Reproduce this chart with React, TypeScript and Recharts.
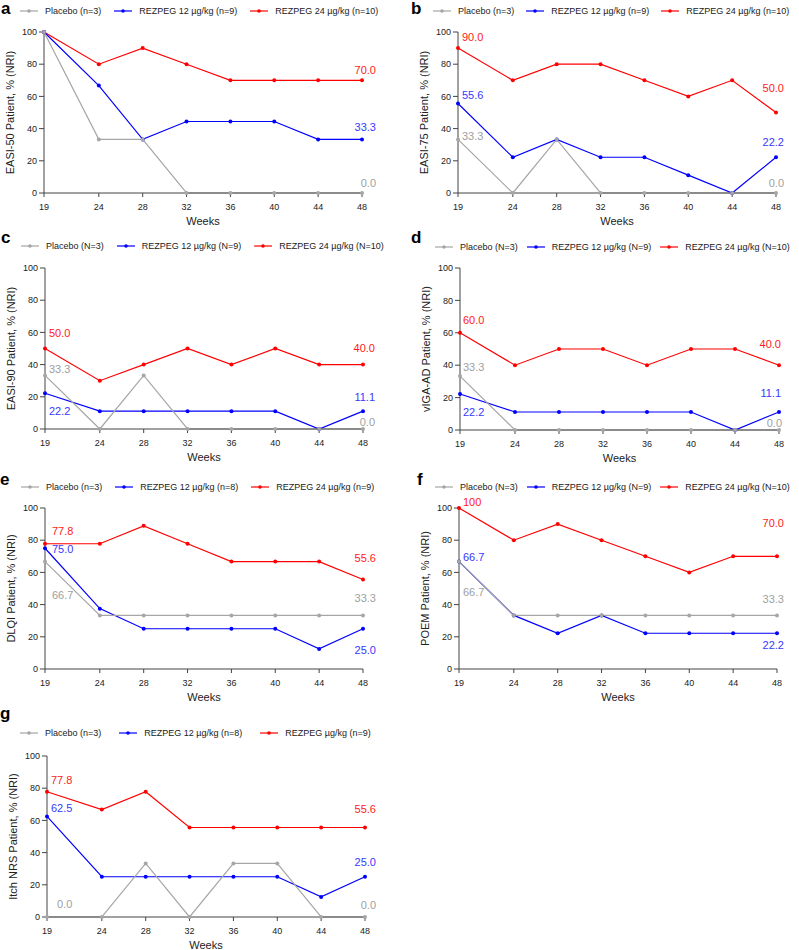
import React from "react";
import { LineChart, Line, XAxis, YAxis, Legend, LabelList } from "recharts";

const FONT = "'Liberation Sans', Arial, sans-serif";

// weeks shown on every panel
const weeks = [19, 24, 28, 32, 36, 40, 44, 48];
const yTicks = [0, 20, 40, 60, 80, 100];

// a - EASI-50
const easi50Placebo = [100, 33.3, 33.3, 0, 0, 0, 0, 0];
const easi50Low = [100, 66.7, 33.3, 44.4, 44.4, 44.4, 33.3, 33.3];
const easi50High = [100, 80, 90, 80, 70, 70, 70, 70];

// b - EASI-75
const easi75Placebo = [33.3, 0, 33.3, 0, 0, 0, 0, 0];
const easi75Low = [55.6, 22.2, 33.3, 22.2, 22.2, 11.1, 0, 22.2];
const easi75High = [90, 70, 80, 80, 70, 60, 70, 50];

// c - EASI-90
const easi90Placebo = [33.3, 0, 33.3, 0, 0, 0, 0, 0];
const easi90Low = [22.2, 11.1, 11.1, 11.1, 11.1, 11.1, 0, 11.1];
const easi90High = [50, 30, 40, 50, 40, 50, 40, 40];

// d - vIGA-AD
const vigaPlacebo = [33.3, 0, 0, 0, 0, 0, 0, 0];
const vigaLow = [22.2, 11.1, 11.1, 11.1, 11.1, 11.1, 0, 11.1];
const vigaHigh = [60, 40, 50, 50, 40, 50, 50, 40];

// e - DLQI
const dlqiPlacebo = [66.7, 33.3, 33.3, 33.3, 33.3, 33.3, 33.3, 33.3];
const dlqiLow = [75, 37.5, 25, 25, 25, 25, 12.5, 25];
const dlqiHigh = [77.8, 77.8, 88.9, 77.8, 66.7, 66.7, 66.7, 55.6];

// f - POEM
const poemPlacebo = [66.7, 33.3, 33.3, 33.3, 33.3, 33.3, 33.3, 33.3];
const poemLow = [66.7, 33.3, 22.2, 33.3, 22.2, 22.2, 22.2, 22.2];
const poemHigh = [100, 80, 90, 80, 70, 60, 70, 70];

// g - Itch NRS
const itchPlacebo = [0, 0, 33.3, 0, 33.3, 33.3, 0, 0];
const itchLow = [62.5, 25, 25, 25, 25, 25, 12.5, 25];
const itchHigh = [77.8, 66.7, 77.8, 55.6, 55.6, 55.6, 55.6, 55.6];

const legendLower = ["Placebo (n=3)", "REZPEG 12 µg/kg (n=9)", "REZPEG 24 µg/kg (n=10)"];
const legendUpper = ["Placebo (N=3)", "REZPEG 12 µg/kg (N=9)", "REZPEG 24 µg/kg (N=10)"];
const legendDlqi = ["Placebo (n=3)", "REZPEG 12 µg/kg (n=8)", "REZPEG 24 µg/kg (n=9)"];
const legendItch = ["Placebo (n=3)", "REZPEG 12 µg/kg (n=8)", "REZPEG µg/kg (n=9)"];

const LINE = { pbo: "#a6a6a6", low: "#0000ff", high: "#ff0000" };
const ANNO = { pbo: "#a0a0a0", low: "#3838ff", high: "#ff1a1a" };

type Key = "pbo" | "low" | "high";
type Anno = { s: Key; i: number; dx: number; dy: number; a: "start" | "end" };

interface Panel {
  letter: string;
  yLabel: string;
  legend: string[];
  pbo: number[];
  low: number[];
  high: number[];
  left: number;
  width: number;
  top: number;
  plotLeft: number;
  plotRight: number;
  plotTop: number;
  plotBottom: number;
  legendX: number;
  legendY: number;
  legendGap: number;
  letterX: number;
  letterY: number;
  annos: Anno[];
}

const fmt = (v: number) => (v === 100 ? "100" : v.toFixed(1));

const panels: Panel[] = [
  {
    letter: "a", yLabel: "EASI-50 Patient, % (NRI)", legend: legendLower,
    pbo: easi50Placebo, low: easi50Low, high: easi50High,
    left: 0, width: 400, top: 0, plotLeft: 44, plotRight: 362, plotTop: 32, plotBottom: 193,
    legendX: 20, legendY: 11, legendGap: 13, letterX: 1, letterY: 14,
    annos: [
      { s: "high", i: 7, dx: 14, dy: -6, a: "end" },
      { s: "low", i: 7, dx: 14, dy: -8, a: "end" },
      { s: "pbo", i: 7, dx: 14, dy: -6, a: "end" },
    ],
  },
  {
    letter: "b", yLabel: "EASI-75 Patient, % (NRI)", legend: legendLower,
    pbo: easi75Placebo, low: easi75Low, high: easi75High,
    left: 400, width: 399, top: 0, plotLeft: 458, plotRight: 776, plotTop: 32, plotBottom: 193,
    legendX: 433, legendY: 11, legendGap: 12, letterX: 411, letterY: 14,
    annos: [
      { s: "high", i: 0, dx: 4, dy: -7, a: "start" },
      { s: "low", i: 0, dx: 4, dy: -4, a: "start" },
      { s: "pbo", i: 0, dx: 4, dy: 1, a: "start" },
      { s: "high", i: 7, dx: 8, dy: -21, a: "end" },
      { s: "low", i: 7, dx: 8, dy: -11, a: "end" },
      { s: "pbo", i: 7, dx: 8, dy: -6, a: "end" },
    ],
  },
  {
    letter: "c", yLabel: "EASI-90 Patient, % (NRI)", legend: legendUpper,
    pbo: easi90Placebo, low: easi90Low, high: easi90High,
    left: 0, width: 400, top: 230, plotLeft: 45, plotRight: 363, plotTop: 268, plotBottom: 429,
    legendX: 21, legendY: 246, legendGap: 13, letterX: 1, letterY: 243,
    annos: [
      { s: "high", i: 0, dx: 4, dy: -12, a: "start" },
      { s: "pbo", i: 0, dx: 4, dy: -2, a: "start" },
      { s: "low", i: 0, dx: 4, dy: 22, a: "start" },
      { s: "high", i: 7, dx: 12, dy: -13, a: "end" },
      { s: "low", i: 7, dx: 12, dy: -10, a: "end" },
      { s: "pbo", i: 7, dx: 12, dy: -3, a: "end" },
    ],
  },
  {
    letter: "d", yLabel: "vIGA-AD Patient, % (NRI)", legend: legendUpper,
    pbo: vigaPlacebo, low: vigaLow, high: vigaHigh,
    left: 400, width: 399, top: 230, plotLeft: 460, plotRight: 779, plotTop: 268, plotBottom: 430,
    legendX: 435, legendY: 247, legendGap: 9, letterX: 411, letterY: 243,
    annos: [
      { s: "high", i: 0, dx: 3, dy: -9, a: "start" },
      { s: "pbo", i: 0, dx: 3, dy: -5, a: "start" },
      { s: "low", i: 0, dx: 3, dy: 22, a: "start" },
      { s: "high", i: 7, dx: 2, dy: -17, a: "end" },
      { s: "low", i: 7, dx: 2, dy: -15, a: "end" },
      { s: "pbo", i: 7, dx: 3, dy: -3, a: "end" },
    ],
  },
  {
    letter: "e", yLabel: "DLQI Patient, % (NRI)", legend: legendDlqi,
    pbo: dlqiPlacebo, low: dlqiLow, high: dlqiHigh,
    left: 0, width: 400, top: 460, plotLeft: 45, plotRight: 363, plotTop: 508, plotBottom: 669,
    legendX: 21, legendY: 487, legendGap: 13, letterX: 0, letterY: 485,
    annos: [
      { s: "high", i: 0, dx: 7, dy: -9, a: "start" },
      { s: "low", i: 0, dx: 7, dy: 5, a: "start" },
      { s: "pbo", i: 0, dx: 7, dy: 37, a: "start" },
      { s: "high", i: 7, dx: 13, dy: -17, a: "end" },
      { s: "pbo", i: 7, dx: 13, dy: -13, a: "end" },
      { s: "low", i: 7, dx: 13, dy: 25, a: "end" },
    ],
  },
  {
    letter: "f", yLabel: "POEM Patient, % (NRI)", legend: legendUpper,
    pbo: poemPlacebo, low: poemLow, high: poemHigh,
    left: 400, width: 399, top: 460, plotLeft: 459, plotRight: 777, plotTop: 508, plotBottom: 669,
    legendX: 435, legendY: 487, legendGap: 9, letterX: 417, letterY: 485,
    annos: [
      { s: "high", i: 0, dx: 4, dy: -2, a: "start" },
      { s: "low", i: 0, dx: 4, dy: -1, a: "start" },
      { s: "pbo", i: 0, dx: 4, dy: 34, a: "start" },
      { s: "high", i: 7, dx: 7, dy: -29, a: "end" },
      { s: "pbo", i: 7, dx: 7, dy: -12, a: "end" },
      { s: "low", i: 7, dx: 7, dy: 16, a: "end" },
    ],
  },
  {
    letter: "g", yLabel: "Itch NRS Patient, % (NRI)", legend: legendItch,
    pbo: itchPlacebo, low: itchLow, high: itchHigh,
    left: 0, width: 400, top: 690, plotLeft: 47, plotRight: 365, plotTop: 756, plotBottom: 917,
    legendX: 20, legendY: 733, legendGap: 18, letterX: 0, letterY: 719,
    annos: [
      { s: "high", i: 0, dx: 4, dy: -8, a: "start" },
      { s: "low", i: 0, dx: 4, dy: -4, a: "start" },
      { s: "pbo", i: 0, dx: 10, dy: -9, a: "start" },
      { s: "high", i: 7, dx: 11, dy: -14, a: "end" },
      { s: "low", i: 7, dx: 11, dy: -11, a: "end" },
      { s: "pbo", i: 7, dx: 11, dy: -8, a: "end" },
    ],
  },
];

const order: Key[] = ["pbo", "low", "high"];

const PanelChart: React.FC<{ p: Panel }> = ({ p }) => {
  const data = weeks.map((w, i) => ({ week: w, pbo: p.pbo[i], low: p.low[i], high: p.high[i] }));
  const height = p.plotBottom + 37 - p.top;
  const axisW = p.plotLeft - p.left;

  const annoContent = (key: Key) => (props: any) => {
    const idx = props.index;
    const a = p.annos.find((n) => n.s === key && n.i === idx);
    if (!a || props.x == null) return null;
    return (
      <text x={props.x + a.dx} y={props.y + a.dy} textAnchor={a.a} fontSize={11} fontFamily={FONT} fill={ANNO[key]}>
        {fmt(Number(props.value))}
      </text>
    );
  };

  const legendContent = () => (
    <div style={{ display: "flex", alignItems: "center", fontSize: 9, lineHeight: "12px", fontFamily: FONT, color: "#222", whiteSpace: "nowrap" }}>
      {order.map((k, i) => (
        <div key={k} style={{ display: "flex", alignItems: "center", marginRight: i < 2 ? p.legendGap : 0 }}>
          <svg width={18} height={6}>
            <line x1={0} y1={3} x2={18} y2={3} stroke={LINE[k]} strokeWidth={1.2} />
            <circle cx={9} cy={3} r={1.8} fill={LINE[k]} />
          </svg>
          <span style={{ marginLeft: 7 }}>{p.legend[i]}</span>
        </div>
      ))}
    </div>
  );

  const tickStyle = { fontSize: 9, fill: "#222", fontFamily: FONT };

  return (
    <div style={{ position: "absolute", left: p.left, top: p.top }}>
      <LineChart
        width={p.width}
        height={height}
        data={data}
        margin={{ top: p.plotTop - p.top, right: p.left + p.width - p.plotRight, bottom: 0, left: 0 }}
      >
        <XAxis
          dataKey="week"
          type="number"
          domain={[19, 48]}
          ticks={weeks}
          height={37}
          tickSize={4}
          tickMargin={7}
          tick={tickStyle}
          stroke="#444"
          label={{ value: "Weeks", position: "insideBottom", offset: 5, style: { fontSize: 11, fill: "#222", fontFamily: FONT } }}
        />
        <YAxis
          type="number"
          domain={[0, 100]}
          ticks={yTicks}
          width={axisW}
          tickSize={5}
          tickMargin={2}
          tick={tickStyle}
          stroke="#444"
          label={{
            value: p.yLabel,
            angle: -90,
            position: "insideLeft",
            offset: axisW - 34,
            style: { textAnchor: "middle", fontSize: 11, fill: "#222", fontFamily: FONT },
          }}
        />
        <Legend
          layout="horizontal"
          verticalAlign="middle"
          align="center"
          content={legendContent}
          wrapperStyle={{ left: p.legendX - p.left, top: p.legendY - 6 - p.top, width: "auto", height: 12 }}
        />
        {(["high", "low", "pbo"] as Key[]).map((k) => (
          <Line
            key={k}
            dataKey={k}
            stroke={LINE[k]}
            strokeWidth={1.2}
            dot={{ r: 2, fill: LINE[k], stroke: "none" }}
            activeDot={false}
            isAnimationActive={false}
            legendType="none"
          >
            <LabelList dataKey={k} content={annoContent(k)} />
          </Line>
        ))}
      </LineChart>
    </div>
  );
};

export default function App() {
  return (
    <div style={{ position: "absolute", left: 0, top: 0, width: 799, height: 950, overflow: "hidden", background: "#fff" }}>
      <svg width={799} height={950} style={{ position: "absolute", left: 0, top: 0 }}>
        {panels.map((p) => (
          <text key={p.letter} x={p.letterX} y={p.letterY} fontSize={17} fontWeight="bold" fontFamily={FONT} fill="#000">
            {p.letter}
          </text>
        ))}
      </svg>
      {panels.map((p) => (
        <PanelChart key={p.letter} p={p} />
      ))}
    </div>
  );
}
